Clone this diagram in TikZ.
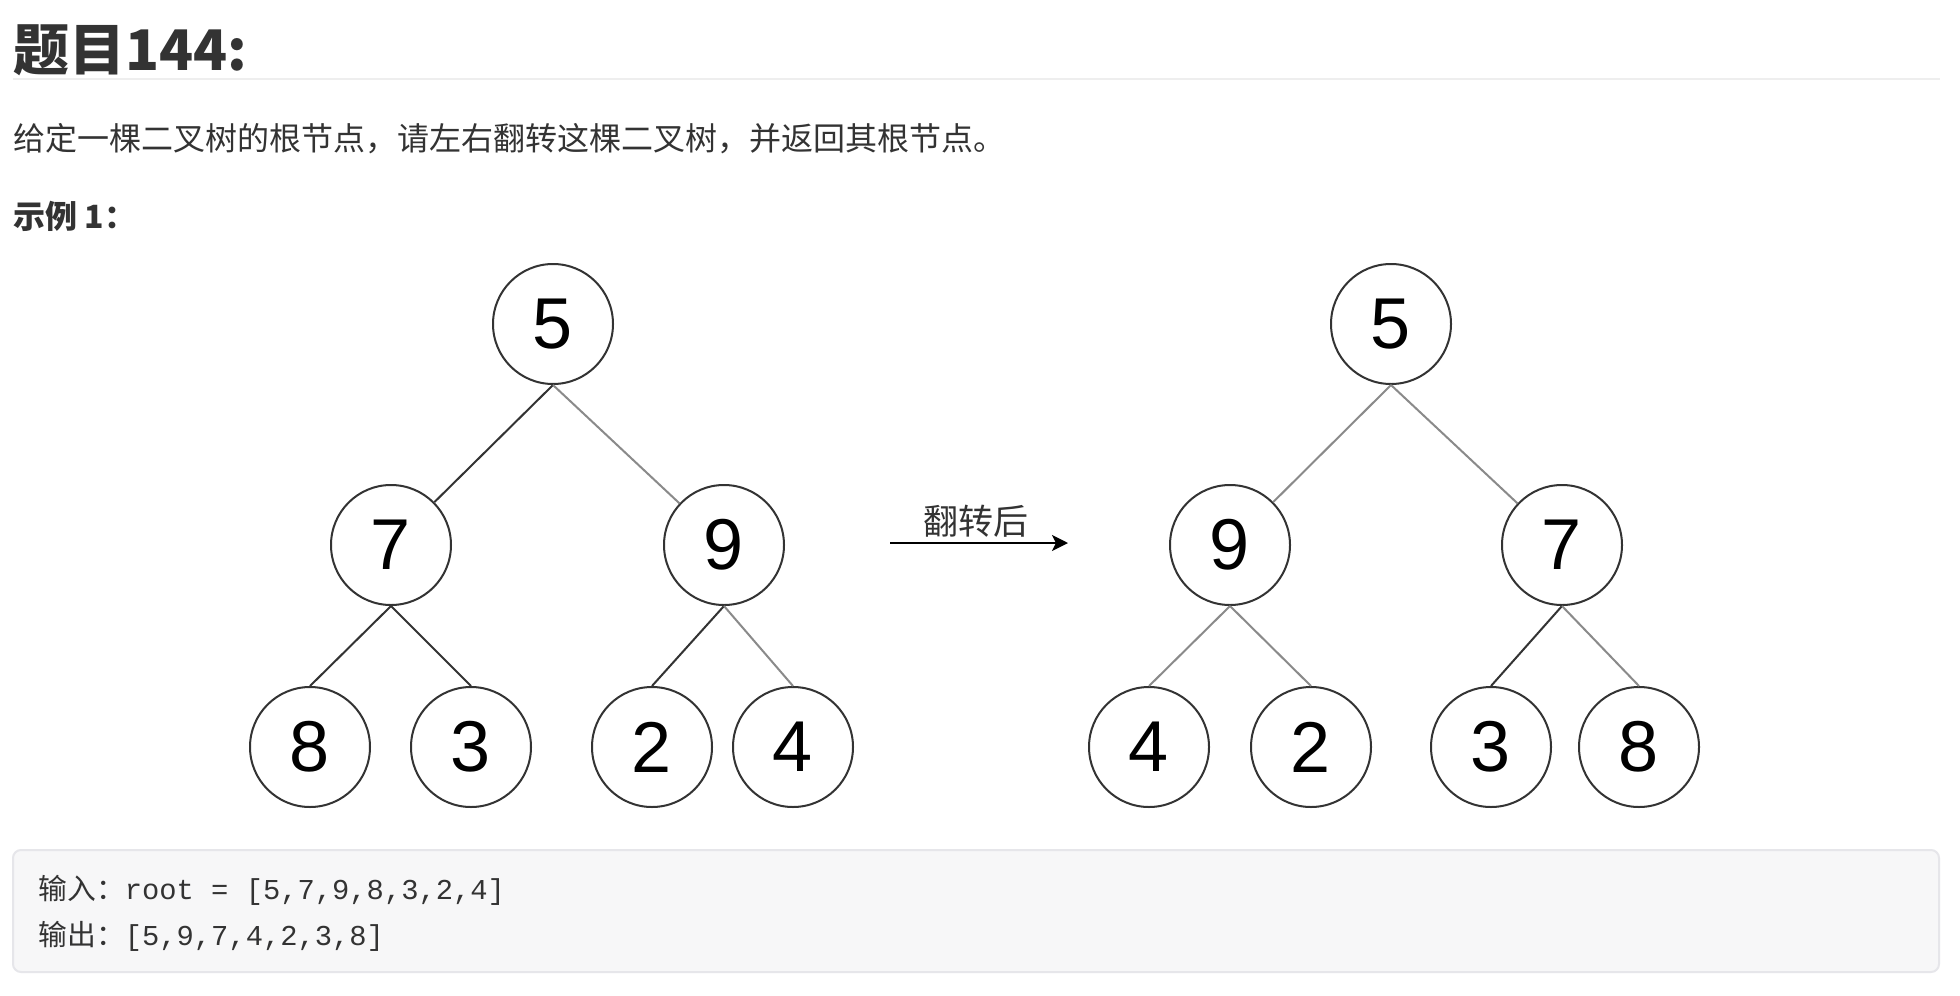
\documentclass[tikz,border=0pt]{standalone}
\usepackage{fontspec}
\setmainfont{Noto Sans CJK SC}
\newfontfamily\cjk{Noto Sans CJK SC}
\newfontfamily\digitfont{Liberation Sans}
\newfontfamily\codefont{Liberation Mono}
\usepackage{tikz}
\usetikzlibrary{arrows.meta}
\usepackage{xcolor}
\definecolor{ink}{HTML}{333333}
\definecolor{edgegray}{HTML}{8A8A8A}
\definecolor{codebg}{HTML}{F7F7F8}
\definecolor{codeborder}{HTML}{E6E6EA}
\definecolor{rulegray}{HTML}{EEEEEE}
\tikzset{
    treenode/.style={
        draw=ink,
        circle,
        fill=white,
        line width=1pt,
        minimum size=60pt,
        inner sep=0pt,
        font=\digitfont\fontsize{36}{36}\selectfont
    },
    darkedge/.style={draw=ink, line width=1pt},
    grayedge/.style={draw=edgegray, line width=1pt},
    flip/.style={
        draw=black,
        line width=1pt,
        -{Stealth[length=8pt, width=8pt, inset=2pt]}
    },
    textline/.style={anchor=base west, inner sep=0pt, text=ink}
}

\begin{document}
\begin{tikzpicture}[x=0.5pt, y=-0.5pt]
    \useasboundingbox (0,0) rectangle (1960,996);
    \fill[white] (0,0) rectangle (1960,996);

    % Heading and text
    \node[textline, font=\cjk\bfseries\fontsize{28}{28}\selectfont] (title) at (13,70) {题目144:};
    \draw[rulegray, line width=1pt] (13,79) -- (1940,79);
    \node[textline, font=\cjk\fontsize{16}{16}\selectfont] (intro) at (13,150)
        {给定一棵二叉树的根节点，请左右翻转这棵二叉树，并返回其根节点。};
    \node[textline, font=\cjk\bfseries\fontsize{16}{16}\selectfont] (example) at (13,228) {示例 1：};

    % Vertices - input tree
    \node[treenode] (a5) at (553,324) {5};
    \node[treenode] (a7) at (391,545) {7};
    \node[treenode] (a9) at (724,545) {9};
    \node[treenode] (a8) at (310,747) {8};
    \node[treenode] (a3) at (471,747) {3};
    \node[treenode] (a2) at (652,747) {2};
    \node[treenode] (a4) at (793,747) {4};

    % Vertices - flipped tree
    \node[treenode] (b5) at (1391,324) {5};
    \node[treenode] (b9) at (1230,545) {9};
    \node[treenode] (b7) at (1562,545) {7};
    \node[treenode] (b4) at (1149,747) {4};
    \node[treenode] (b2) at (1311,747) {2};
    \node[treenode] (b3) at (1491,747) {3};
    \node[treenode] (b8) at (1639,747) {8};

    % Edges
    \draw[darkedge] (a5.south) -- (a7);
    \draw[grayedge] (a5.south) -- (a9);
    \draw[darkedge] (a7.south) -- (a8.north);
    \draw[darkedge] (a7.south) -- (a3.north);
    \draw[darkedge] (a9.south) -- (a2.north);
    \draw[grayedge] (a9.south) -- (a4.north);

    \draw[grayedge] (b5.south) -- (b9);
    \draw[grayedge] (b5.south) -- (b7);
    \draw[grayedge] (b9.south) -- (b4.north);
    \draw[grayedge] (b9.south) -- (b2.north);
    \draw[darkedge] (b7.south) -- (b3.north);
    \draw[grayedge] (b7.south) -- (b8.north);

    % Arrow between the trees
    \coordinate (flipfrom) at (890,543);
    \coordinate (flipto) at (1068,543);
    \draw[flip] (flipfrom) -- (flipto);
    \node[text=ink, inner sep=0pt, font=\cjk\fontsize{17.5}{17.5}\selectfont] (flipnote) at (976,521) {翻转后};

    % Code block
    \draw[fill=codebg, draw=codeborder, line width=1pt, rounded corners=4pt] (13,850) rectangle (1939,972);
    \node[textline, font=\fontsize{14.4}{14.4}\selectfont] (inp) at (38,899)
        {{\cjk 输入：}{\codefont root = [5,7,9,8,3,2,4]}};
    \node[textline, font=\fontsize{14.4}{14.4}\selectfont] (outp) at (38,945)
        {{\cjk 输出：}{\codefont [5,9,7,4,2,3,8]}};
\end{tikzpicture}
\end{document}
